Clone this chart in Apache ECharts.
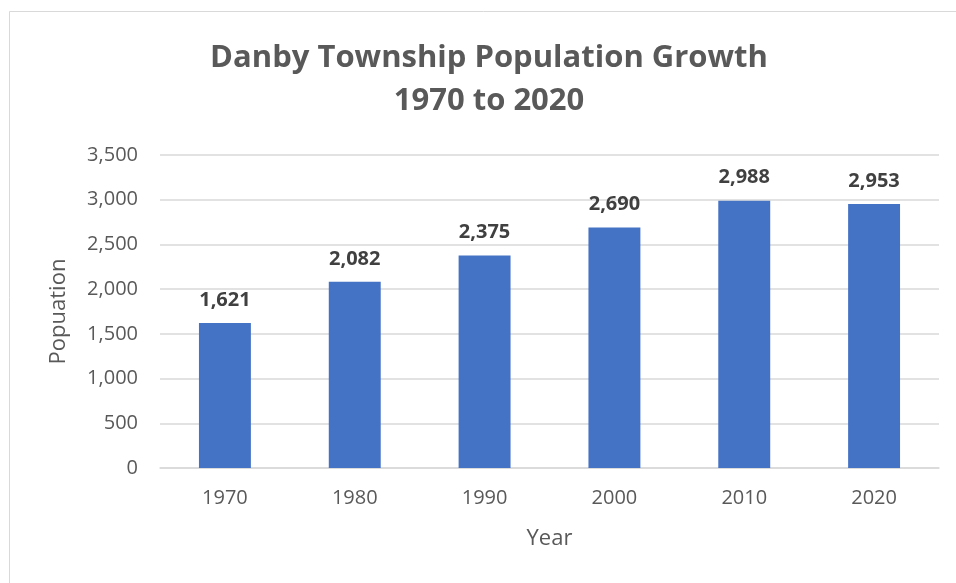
<!DOCTYPE html>
<html><head><meta charset="utf-8">
<script src="https://cdn.jsdelivr.net/npm/echarts@6/dist/echarts.min.js"></script>
<style>html,body{margin:0;padding:0;background:#fff;}#c{width:956px;height:583px;}</style>
</head><body>
<div id="c"></div>
<script>
const categories = ['1970','1980','1990','2000','2010','2020'];
const population = [1621, 2082, 2375, 2690, 2988, 2953];
const yTicks = [0, 500, 1000, 1500, 2000, 2500, 3000, 3500];
const titleLines = ['Danby Township Population Growth', '1970 to 2020'];

const FONT = '"Open Sans", "Liberation Sans", sans-serif';
const chart = echarts.init(document.getElementById('c'), null, {renderer: 'canvas'});
const fmt = v => v.toLocaleString('en-US');
chart.setOption({
  backgroundColor: '#fff',
  animation: false,
  graphic: [{
    type: 'rect', shape: {x: 9.5, y: 11.5, width: 960, height: 600},
    style: {fill: 'none', stroke: '#d9d9d9', lineWidth: 1}, silent: true
  }],
  title: {
    text: titleLines.join('\n'),
    left: 484, textAlign: 'center', top: 32,
    textStyle: {fontFamily: FONT, fontSize: 31, fontWeight: 'bold', color: '#595959', lineHeight: 43}
  },
  grid: {left: 160, right: 17, top: 155, bottom: 115},
  xAxis: {
    type: 'category', data: categories,
    name: 'Year', nameLocation: 'middle', nameGap: 60,
    nameTextStyle: {fontFamily: FONT, fontSize: 22, color: '#595959'},
    axisLine: {lineStyle: {color: '#d9d9d9', width: 1.5}},
    axisTick: {show: false},
    axisLabel: {fontFamily: FONT, fontSize: 20, color: '#595959', margin: 20}
  },
  yAxis: {
    type: 'value', min: yTicks[0], max: yTicks[yTicks.length-1], interval: 500,
    name: 'Popuation', nameLocation: 'middle', nameGap: 90, nameRotate: 90,
    nameTextStyle: {fontFamily: FONT, fontSize: 22, color: '#595959'},
    axisLine: {show: false}, axisTick: {show: false},
    splitLine: {lineStyle: {color: '#d9d9d9', width: 1.5}},
    axisLabel: {fontFamily: FONT, fontSize: 20, color: '#595959', margin: 22, formatter: v => fmt(v)}
  },
  series: [{
    type: 'bar', data: population, barWidth: '40%',
    itemStyle: {color: '#4472C4'},
    label: {show: true, position: 'top', distance: 13, formatter: p => fmt(p.value),
      fontFamily: FONT, fontSize: 20, fontWeight: 'bold', color: '#404040'}
  }]
});
</script>
</body></html>
